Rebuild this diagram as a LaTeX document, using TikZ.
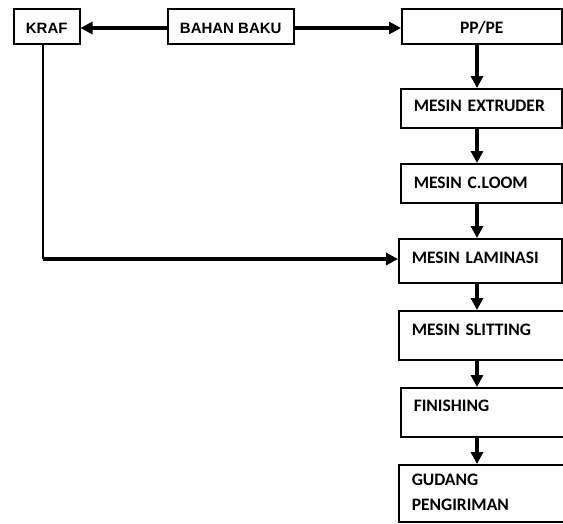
\documentclass[tikz,border=0pt]{standalone}
\usepackage{fontspec}
\setmainfont{Carlito}
\newfontfamily\arialfont{Liberation Sans}
\usetikzlibrary{arrows.meta}
\begin{document}
\begin{tikzpicture}[x=1pt,y=-1pt,
  boxbase/.style={draw,line width=1.5pt,inner ysep=0pt,anchor=north west},
  cbox/.style={boxbase,inner xsep=0pt,font=\fontsize{17.5}{25}\selectfont\bfseries},
  abox/.style={boxbase,inner xsep=0pt,font=\arialfont\fontsize{15}{20}\selectfont\bfseries},
  lbox/.style={boxbase,inner xsep=13pt,align=left,font=\fontsize{17.5}{25}\selectfont\bfseries},
  arr/.style={line width=3.6pt,-{Triangle[length=12pt,width=12pt]}},
  thinline/.style={line width=1.5pt}]
\clip (0,0) rectangle (563,523);
% top row
\node[abox,minimum width=66pt,text height=25pt,text depth=10pt] (kraf) at (13,8) {KRAF};
\node[abox,minimum width=126pt,text height=25pt,text depth=10pt] (bb) at (167,8) {BAHAN BAKU};
\node[cbox,minimum width=160pt,text height=25pt,text depth=10pt] (ppe) at (401,8) {PP/PE};
% right column
\node[lbox,text width=135pt,text height=23pt,text depth=16pt] (ext) at (400,88) {MESIN EXTRUDER};
\node[lbox,text width=135pt,text height=25pt,text depth=14pt] (cloom) at (400,163) {MESIN C.LOOM};
\node[lbox,text width=137pt,text height=25pt,text depth=19pt] (lam) at (398,238) {MESIN LAMINASI};
\node[lbox,text width=146pt,text height=25pt,text depth=24pt] (slit) at (398,310) {MESIN SLITTING};
\node[lbox,text width=144pt,text height=24pt,text depth=25pt] (fin) at (400,387) {FINISHING};
\node[lbox,text width=146pt,text height=21pt,text depth=36pt] (gud) at (398,464) {GUDANG\\PENGIRIMAN};
% helper coordinates
\coordinate (rowy) at (0,28);
\coordinate (colx) at (477,0);
\coordinate (kcorner) at (43,259);
% connectors
\draw[arr] (bb.west |- rowy) -- (kraf.east |- rowy);
\draw[arr] (bb.east |- rowy) -- (ppe.west |- rowy);
\draw[arr] (ppe.south -| colx) -- (ext.north -| colx);
\draw[arr] (ext.south -| colx) -- (cloom.north -| colx);
\draw[arr] (cloom.south -| colx) -- (lam.north -| colx);
\draw[arr] (lam.south -| colx) -- (slit.north -| colx);
\draw[arr] (slit.south -| colx) -- (fin.north -| colx);
\draw[arr] (fin.south -| colx) -- (gud.north -| colx);
\draw[thinline] (kraf.south -| kcorner) -- (kcorner);
\draw[arr] (kcorner) -- (kcorner -| lam.west);
\end{tikzpicture}
\end{document}
